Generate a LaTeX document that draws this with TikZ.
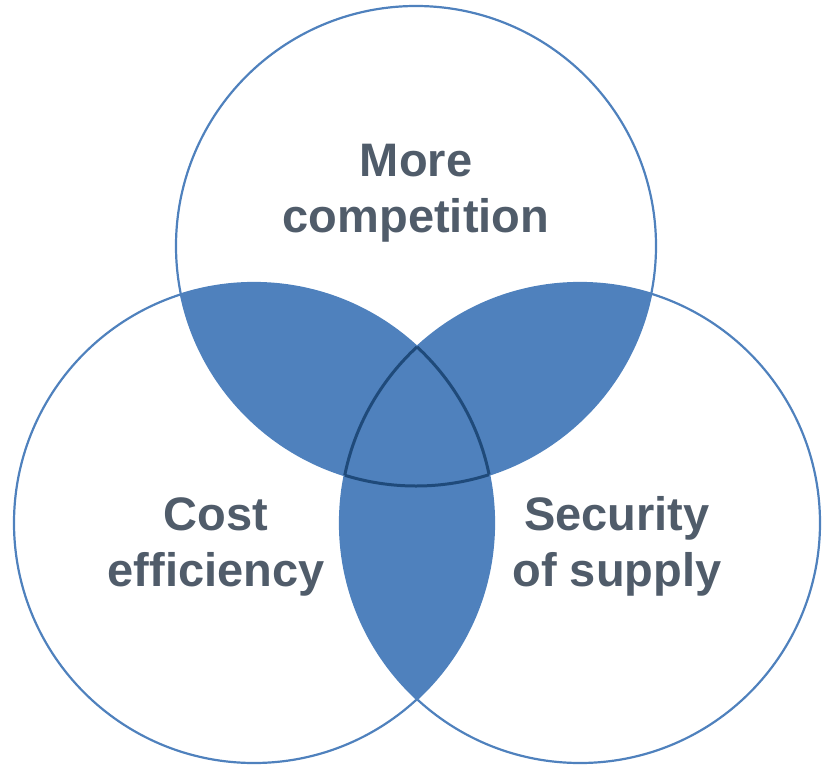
\documentclass[tikz,border=0pt]{standalone}
\usepackage{fontspec}
\setmainfont{Liberation Sans}
\definecolor{vfill}{HTML}{4F81BD}
\definecolor{vline}{HTML}{4F81BD}
\definecolor{vdark}{HTML}{1F4A7A}
\definecolor{vtext}{HTML}{505C6A}
\tikzset{
  ring/.style={draw=vline, line width=2.2pt},
  core/.style={draw=vdark, line width=3pt},
  lbl/.style={anchor=base, inner sep=0pt, text=vtext, font=\bfseries\fontsize{47}{56}\selectfont}
}
\begin{document}
\begin{tikzpicture}[x=1pt,y=-1pt]
\useasboundingbox (0,0) rectangle (823,766);
\coordinate (T) at (416,246);
\coordinate (L) at (254,523);
\coordinate (R) at (580,523);
\def\rr{240pt}
% pairwise overlaps
\begin{scope}\clip (T) circle[radius=\rr]; \fill[vfill] (L) circle[radius=\rr];\end{scope}
\begin{scope}\clip (T) circle[radius=\rr]; \fill[vfill] (R) circle[radius=\rr];\end{scope}
\begin{scope}\clip (L) circle[radius=\rr]; \fill[vfill] (R) circle[radius=\rr];\end{scope}
% circle outlines
\draw[ring] (T) circle[radius=\rr];
\draw[ring] (L) circle[radius=\rr];
\draw[ring] (R) circle[radius=\rr];
% triple overlap outline
\begin{scope}\clip (L) circle[radius=\rr]; \clip (R) circle[radius=\rr]; \draw[core] (T) circle[radius=\rr];\end{scope}
\begin{scope}\clip (T) circle[radius=\rr]; \clip (R) circle[radius=\rr]; \draw[core] (L) circle[radius=\rr];\end{scope}
\begin{scope}\clip (T) circle[radius=\rr]; \clip (L) circle[radius=\rr]; \draw[core] (R) circle[radius=\rr];\end{scope}
% labels
\node[lbl] (mc1) at (416,176) {More};
\node[lbl] (mc2) at (416,232) {competition};
\node[lbl] (ce1) at (216,530) {Cost};
\node[lbl] (ce2) at (216,586) {efficiency};
\node[lbl] (ss1) at (617,530) {Security};
\node[lbl] (ss2) at (617,586) {of supply};
\end{tikzpicture}
\end{document}
